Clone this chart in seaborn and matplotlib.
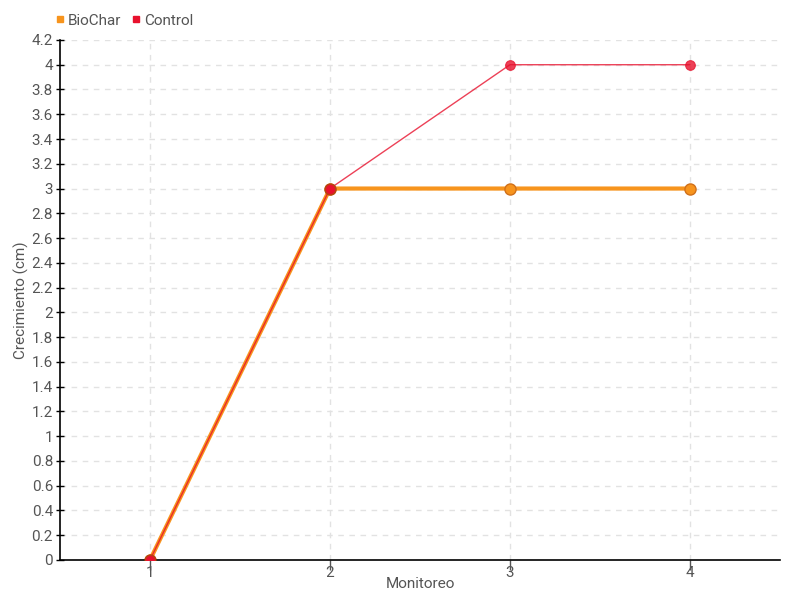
import pandas as pd
import matplotlib
matplotlib.use("Agg")
import matplotlib.pyplot as plt
import seaborn as sns
from matplotlib.lines import Line2D

monitoreo = [1, 2, 3, 4]
biochar = [0, 3, 3, 3]
control = [0, 3, 4, 4]
y_ticks = [0, 0.2, 0.4, 0.6, 0.8, 1, 1.2, 1.4, 1.6, 1.8, 2, 2.2, 2.4, 2.6, 2.8,
           3, 3.2, 3.4, 3.6, 3.8, 4, 4.2]

sns.set_theme(style="white")
plt.rcParams['font.family'] = ['Roboto', 'DejaVu Sans']

df_bio = pd.DataFrame({'Monitoreo': monitoreo, 'Crecimiento': biochar})
df_ctl = pd.DataFrame({'Monitoreo': monitoreo, 'Crecimiento': control})

fig = plt.figure(figsize=(8, 6), dpi=100)
ax = fig.add_axes([0.075, 0.0667, 0.9, 0.8667])

orange = '#f7941d'
red = '#e8112d'

sns.lineplot(data=df_ctl, x='Monitoreo', y='Crecimiento', ax=ax, color=red,
             linewidth=1, alpha=0.8, marker='o', markersize=7,
             markeredgecolor=red, zorder=3)
sns.lineplot(data=df_bio, x='Monitoreo', y='Crecimiento', ax=ax, color=orange,
             linewidth=3, marker='o', markersize=8, markeredgecolor='#d0701a',
             markeredgewidth=1, zorder=2)
# Control markers on top where they overlap
sns.scatterplot(data=df_ctl.iloc[:2], x='Monitoreo', y='Crecimiento', ax=ax,
                color=red, s=60, edgecolor='#b5450f', linewidth=1, zorder=4)

ax.set_xlim(0.5, 4.5)
ax.set_ylim(0, 4.2)
ax.set_xticks(monitoreo)
ax.set_yticks(y_ticks)
ax.set_yticklabels([f'{v:g}' for v in y_ticks])
ax.grid(True, color='#e2e2e2', linestyle=(0, (4, 4)), linewidth=1)
ax.set_axisbelow(True)

for s in ['top', 'right']:
    ax.spines[s].set_visible(False)
ax.spines['left'].set_color('black')
ax.spines['bottom'].set_color('black')
ax.spines['left'].set_linewidth(1.2)
ax.spines['bottom'].set_linewidth(1.2)

ax.tick_params(axis='y', direction='inout', length=6, width=1, color='black',
               labelsize=11, labelcolor='#555555', pad=2, left=True)
ax.tick_params(axis='x', direction='out', length=7, width=1, color='#555555',
               labelsize=11, labelcolor='#555555', pad=-3, bottom=True)

ax.set_xlabel('Monitoreo', fontsize=11, color='#555555', labelpad=-2)
ax.set_ylabel('Crecimiento (cm)', fontsize=11, color='#555555', labelpad=2)

handles = [Line2D([], [], marker='s', linestyle='', color=orange, markersize=5),
           Line2D([], [], marker='s', linestyle='', color=red, markersize=5)]
fig.legend(handles, ['BioChar', 'Control'], loc='upper left',
           bbox_to_anchor=(0.05, 1.0), ncol=2, frameon=False, fontsize=11,
           handletextpad=0.1, columnspacing=0.6, handlelength=0.8,
           labelcolor='#555555')

fig.savefig('out.png', dpi=100)
